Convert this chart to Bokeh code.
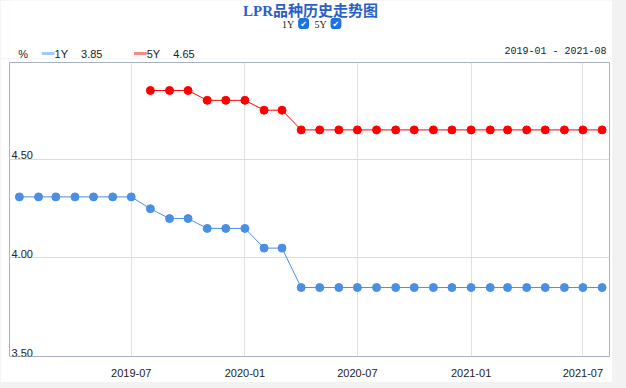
import datetime as dt
from bokeh.plotting import figure
from bokeh.layouts import column
from bokeh.models import (ColumnDataSource, Range1d, DatetimeTickFormatter, FixedTicker)
from bokeh.embed import file_html
from bokeh.resources import INLINE
from bokeh.core.properties import value

# ---------------- data ----------------
months_1y = ["2019-01", "2019-02", "2019-03", "2019-04", "2019-05", "2019-06", "2019-07",
             "2019-08", "2019-09", "2019-10", "2019-11", "2019-12", "2020-01", "2020-02",
             "2020-03", "2020-04", "2020-05", "2020-06", "2020-07", "2020-08", "2020-09",
             "2020-10", "2020-11", "2020-12", "2021-01", "2021-02", "2021-03", "2021-04",
             "2021-05", "2021-06", "2021-07", "2021-08"]
rate_1y = [4.31, 4.31, 4.31, 4.31, 4.31, 4.31, 4.31,
           4.25, 4.20, 4.20, 4.15, 4.15, 4.15, 4.05,
           4.05, 3.85, 3.85, 3.85, 3.85, 3.85, 3.85,
           3.85, 3.85, 3.85, 3.85, 3.85, 3.85, 3.85,
           3.85, 3.85, 3.85, 3.85]
months_5y = ["2019-08", "2019-09", "2019-10", "2019-11", "2019-12", "2020-01", "2020-02",
             "2020-03", "2020-04", "2020-05", "2020-06", "2020-07", "2020-08", "2020-09",
             "2020-10", "2020-11", "2020-12", "2021-01", "2021-02", "2021-03", "2021-04",
             "2021-05", "2021-06", "2021-07", "2021-08"]
rate_5y = [4.85, 4.85, 4.85, 4.80, 4.80, 4.80, 4.75,
           4.75, 4.65, 4.65, 4.65, 4.65, 4.65, 4.65,
           4.65, 4.65, 4.65, 4.65, 4.65, 4.65, 4.65,
           4.65, 4.65, 4.65, 4.65]
x_tick_labels = ["2019-07", "2020-01", "2020-07", "2021-01", "2021-07"]
y_ticks = [3.50, 4.00, 4.50]
title_text = "LPR品种历史走势图"
series_names = ["1Y", "5Y"]
latest_values = ["3.85", "4.65"]
date_span = "2019-01 - 2021-08"
unit_text = "%"

def to_date(s):
    y, m = s.split("-")
    return dt.datetime(int(y), int(m), 1)

def to_ms(s):
    return (to_date(s) - dt.datetime(1970, 1, 1)).total_seconds() * 1000.0

C1 = "#4a8fe3"
C5 = "#ff0000"
TXT = "#222222"
W = 612
HH = 58

# ---------------- header (pixel coordinates, y downward) ----------------
h = figure(width=W, height=HH, output_backend="svg", toolbar_location=None,
           x_range=Range1d(0, W), y_range=Range1d(HH, 0),
           min_border_left=0, min_border_right=0, min_border_top=0, min_border_bottom=0,
           x_axis_location=None, y_axis_location=None)
h.xgrid.visible = False
h.ygrid.visible = False
h.outline_line_color = None
h.background_fill_color = "white"
h.border_fill_color = "white"

h.text(x=[307], y=[10], text=[title_text], text_align="center", text_baseline="middle",
       text_font=value("'Liberation Serif', 'Noto Sans CJK SC'"), text_font_size="15px",
       text_font_style="bold", text_color="#2a5fc8")
h.text(x=[278, 311], y=[24, 24], text=series_names, text_align="left", text_baseline="middle",
       text_font=value("Liberation Serif"), text_font_size="10px", text_color=TXT)
h.quad(left=[295, 328], right=[305, 338], top=[18, 18], bottom=[28, 28],
       fill_color="#1a73e8", line_color="#1a6ad8", border_radius=2)
h.text(x=[300, 333], y=[23.5, 23.5], text=["\u2714", "\u2714"], text_align="center",
       text_baseline="middle", text_font=value("DejaVu Sans"), text_font_size="8px",
       text_color="white")

h.text(x=[9], y=[53], text=[unit_text], text_baseline="middle",
       text_font=value("Liberation Sans"), text_font_size="11px", text_color=TXT)
h.segment(x0=[33], x1=[46], y0=[53], y1=[53], line_color="#a6c8f2", line_width=3)
h.segment(x0=[127], x1=[140], y0=[53], y1=[53], line_color="#f28a8a", line_width=3)
h.text(x=[46, 140], y=[53, 53], text=series_names, text_baseline="middle",
       text_font=value("Liberation Sans"), text_font_size="11px", text_color=TXT)
h.text(x=[73, 167], y=[53, 53], text=latest_values, text_baseline="middle",
       text_font=value("Liberation Sans"), text_font_size="11px", text_color=TXT)
h.text(x=[609], y=[51], text=[date_span], text_align="right", text_baseline="middle",
       text_font=value("Liberation Mono"), text_font_size="10px", text_color=TXT)

# ---------------- main chart ----------------
src1 = ColumnDataSource(dict(x=[to_date(m) for m in months_1y], y=rate_1y))
src5 = ColumnDataSource(dict(x=[to_date(m) for m in months_5y], y=rate_5y))

p = figure(width=W, height=324, x_axis_type="datetime", output_backend="svg",
           toolbar_location=None, min_border_left=9, min_border_right=3,
           min_border_top=4, min_border_bottom=26,
           x_range=Range1d(dt.datetime(2018, 12, 16), dt.datetime(2021, 8, 13)),
           y_range=Range1d(3.5, 4.992))
p.background_fill_color = "white"
p.border_fill_color = "white"
p.outline_line_color = "#a9b0bf"
p.outline_line_width = 1

p.line("x", "y", source=src1, color=C1, line_width=1)
p.scatter("x", "y", source=src1, size=8, color=C1)
p.line("x", "y", source=src5, color=C5, line_width=1)
p.scatter("x", "y", source=src5, size=8, color=C5)

xt = FixedTicker(ticks=[to_ms(s) for s in x_tick_labels])
p.xaxis.ticker = xt
p.xgrid.ticker = xt
p.xaxis.formatter = DatetimeTickFormatter(months="%Y-%m", years="%Y-%m", days="%Y-%m")
p.xaxis.axis_line_color = None
p.xaxis.major_tick_line_color = None
p.xaxis.minor_tick_line_color = None
p.xaxis.major_label_text_font = "Liberation Sans"
p.xaxis.major_label_text_font_size = "11px"
p.xaxis.major_label_text_color = TXT
p.xaxis.major_label_standoff = 6
p.yaxis.visible = False
p.ygrid.ticker = FixedTicker(ticks=y_ticks)
p.xgrid.grid_line_color = "#e2e2e2"
p.ygrid.grid_line_color = "#dcdcdc"

p.text(x=[p.x_range.start] * len(y_ticks), y=y_ticks, text=["%.2f" % t for t in y_ticks],
       x_offset=2, y_offset=0, text_baseline="bottom", text_align="left",
       text_font=value("Liberation Sans"), text_font_size="11px", text_color=TXT)

layout = column(h, p, spacing=0, styles={"background-color": "#f2f2f2"},
                width=626, height=388)
out = file_html(layout, INLINE)
open("out.html", "w").write(out)
